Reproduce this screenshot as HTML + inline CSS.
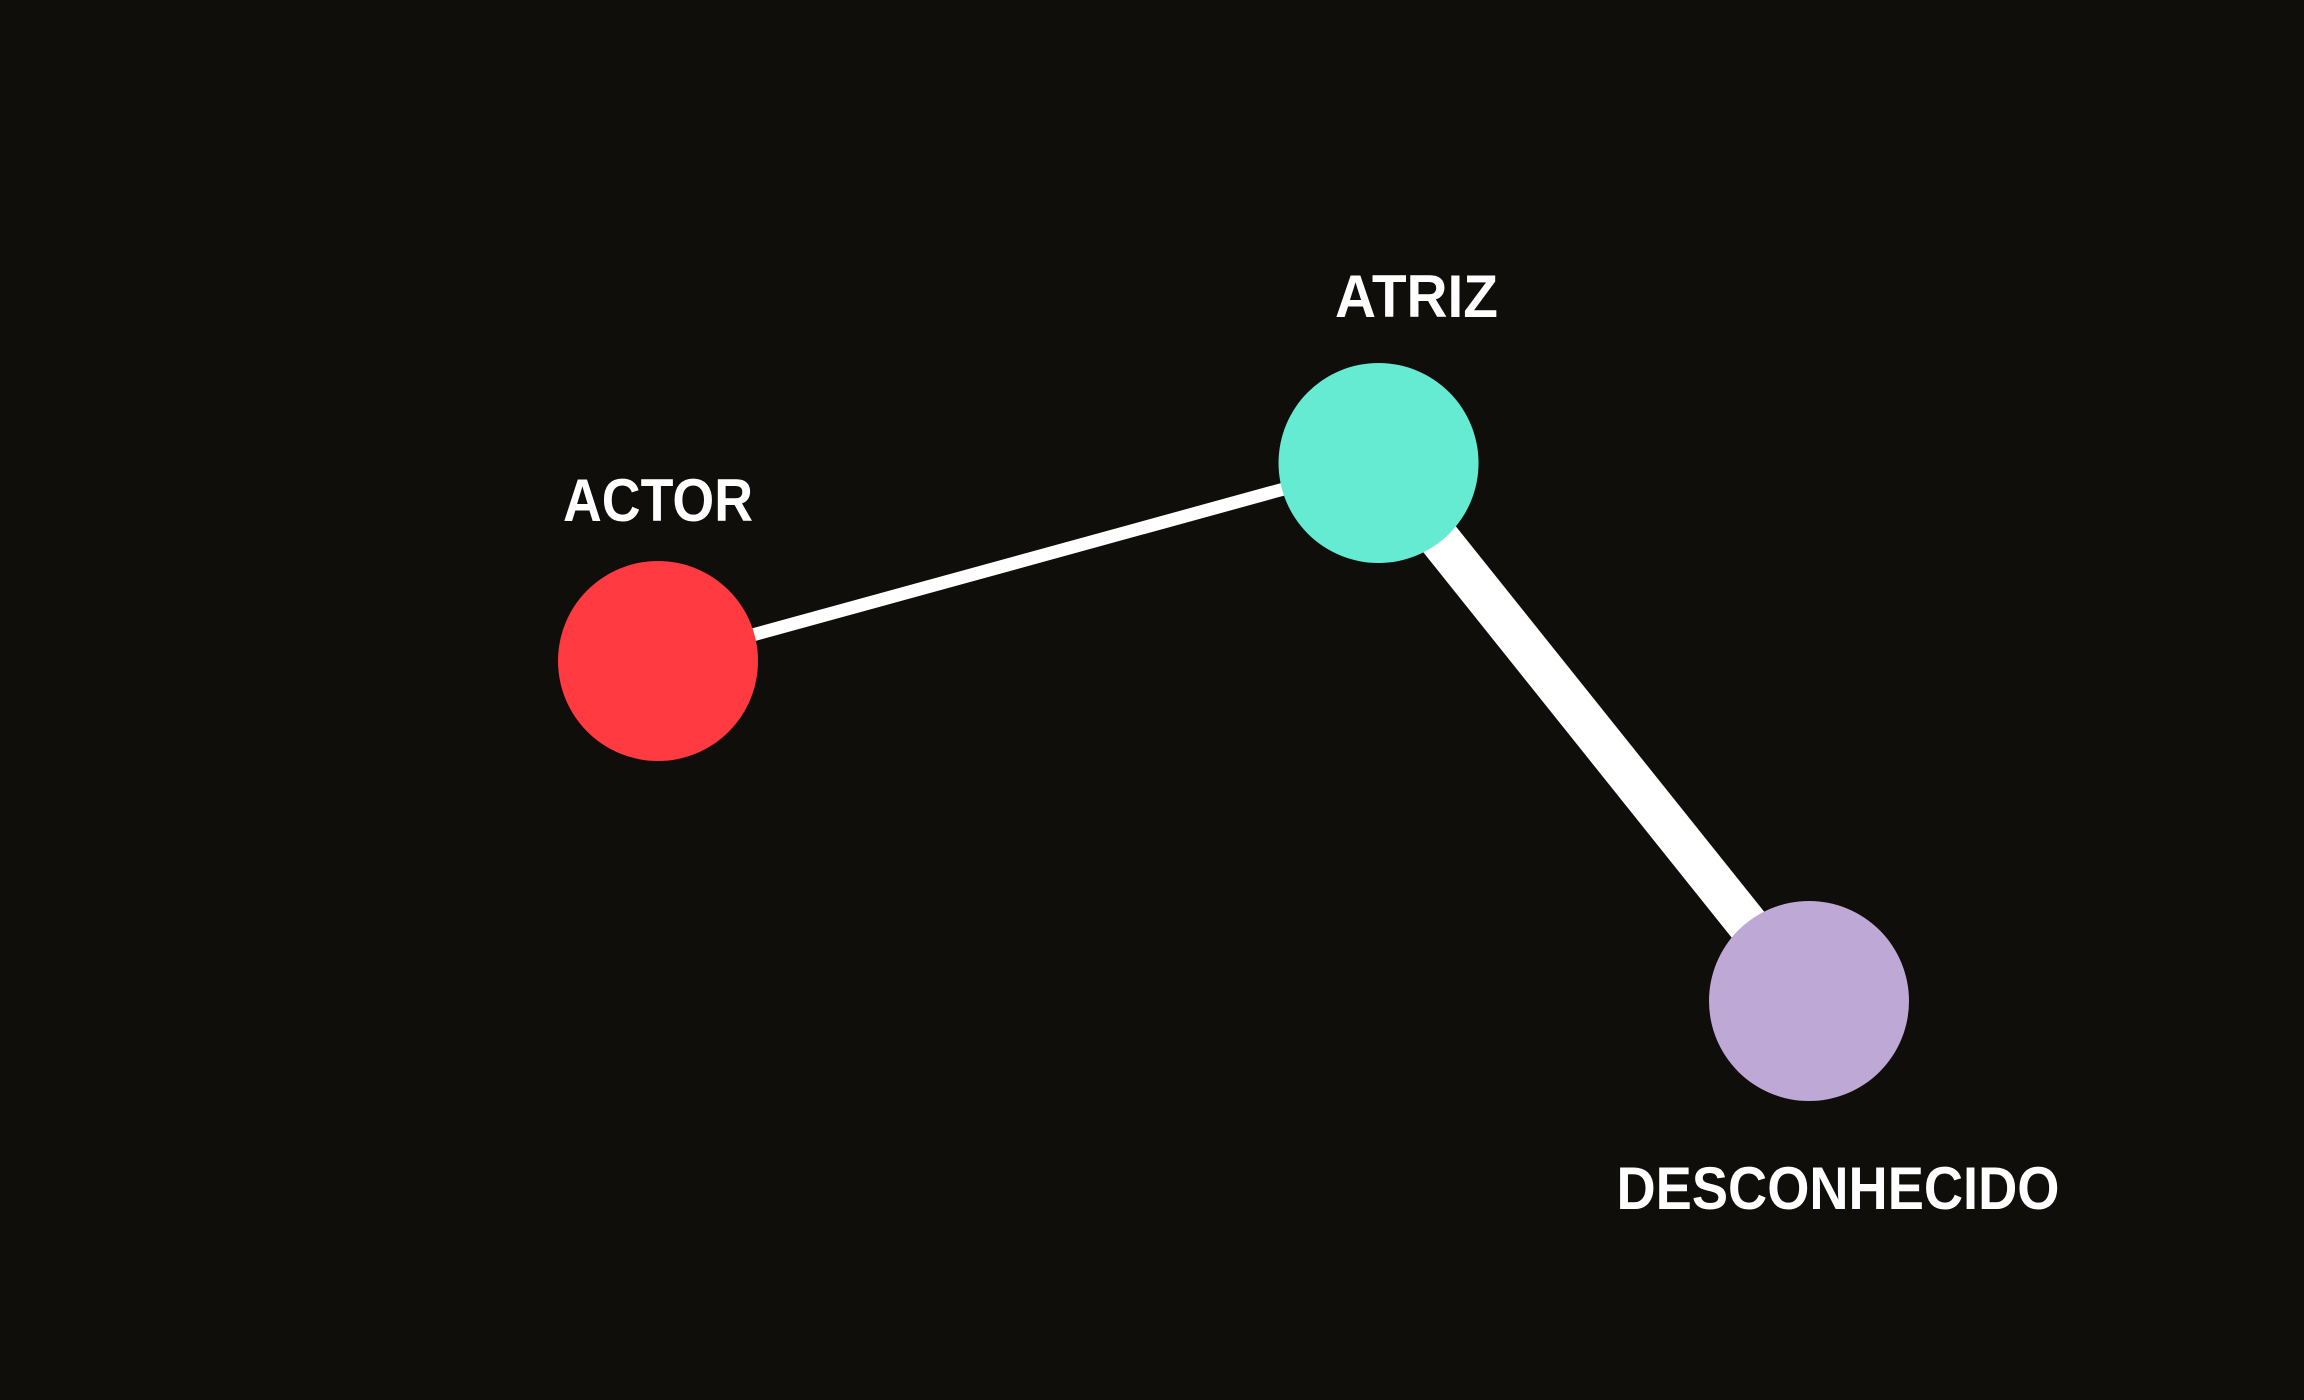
<!DOCTYPE html>
<html><head><meta charset="utf-8"><style>
html,body{margin:0;padding:0;background:#100e0b;}
svg{display:block;}
text{font-family:"Liberation Sans",sans-serif;font-weight:bold;fill:#ffffff;}
</style></head><body>
<svg id="chart" width="2304" height="1400" viewBox="0 0 2304 1400">
<rect x="0" y="0" width="2304" height="1400" fill="#100e0b"/>
<g id="edges"></g>
<g id="nodes"></g>
<g id="labels"></g>
</svg>
<script>
// Data (layout coordinates in a 0-100 layout space)
const nodeNames = ["ACTOR", "ATRIZ", "DESCONHECIDO"];
const nodeLayoutX = [0, 62.6, 100];
const nodeLayoutY = [36.8, 0, 100];
const nodeColors = ["#ff3a40", "#64ebd2", "#bda8d6"];
const labelPos = ["above", "above", "below"];
const edgeSource = [0, 1];
const edgeTarget = [1, 2];
const edgeWeight = [1, 3.2];

// Scales
const xScale = v => 658 + v * 11.51;
const yScale = v => 463 + v * 5.38;
const wScale = w => 13 * w;
const R = 100;

const NS = "http://www.w3.org/2000/svg";
const gE = document.getElementById("edges");
const gN = document.getElementById("nodes");
const gL = document.getElementById("labels");
const labelWidths = [190, 163, 443];
const labelDx = [0, 38, 29];
const labelDy = [-140, -146, 208];

for (let i = 0; i < edgeSource.length; i++) {
  const s = edgeSource[i], t = edgeTarget[i];
  const l = document.createElementNS(NS, "line");
  l.setAttribute("x1", xScale(nodeLayoutX[s]));
  l.setAttribute("y1", yScale(nodeLayoutY[s]));
  l.setAttribute("x2", xScale(nodeLayoutX[t]));
  l.setAttribute("y2", yScale(nodeLayoutY[t]));
  l.setAttribute("stroke", "#ffffff");
  l.setAttribute("stroke-width", wScale(edgeWeight[i]));
  
  
  gE.appendChild(l);
}
for (let i = 0; i < nodeNames.length; i++) {
  const cx = xScale(nodeLayoutX[i]), cy = yScale(nodeLayoutY[i]);
  const c = document.createElementNS(NS, "circle");
  c.setAttribute("cx", cx);
  c.setAttribute("cy", cy);
  c.setAttribute("r", R);
  c.setAttribute("fill", nodeColors[i]);
  
  
  gN.appendChild(c);
  const t = document.createElementNS(NS, "text");
  const w = labelWidths[i];
  const lx = cx + labelDx[i];
  t.setAttribute("x", lx - w / 2);
  t.setAttribute("y", cy + labelDy[i]);
  t.setAttribute("font-size", "60");
  t.setAttribute("textLength", w);
  t.setAttribute("lengthAdjust", "spacingAndGlyphs");
  t.textContent = nodeNames[i];
  
  
  gL.appendChild(t);
}
</script>
</body></html>
